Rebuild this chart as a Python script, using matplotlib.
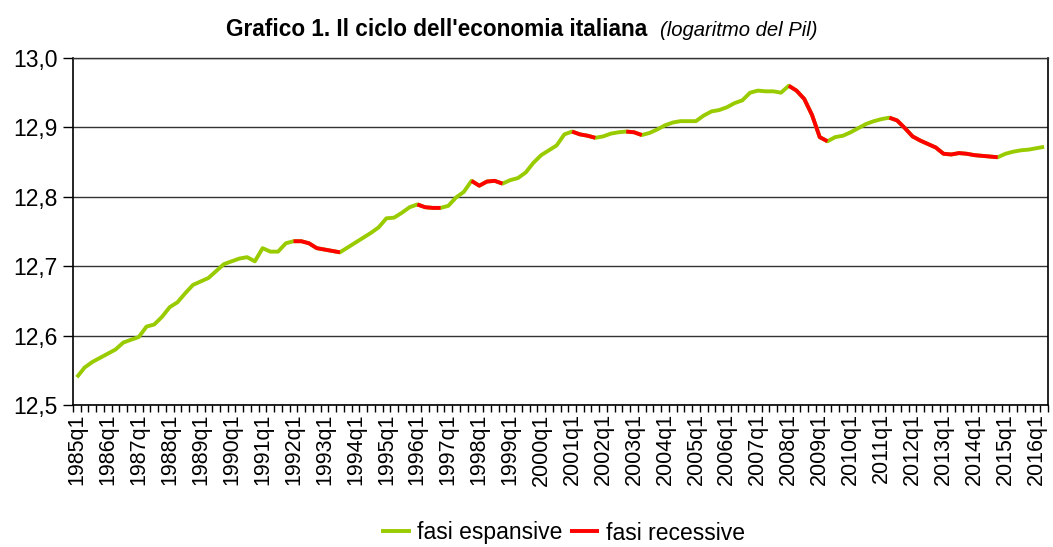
import matplotlib
matplotlib.use("Agg")
import matplotlib.pyplot as plt
from matplotlib.ticker import FixedLocator, FuncFormatter, NullFormatter

plt.rcParams['font.family'] = ['Liberation Sans', 'DejaVu Sans']

years = list(range(1985, 2017))
quarters = [f"{y}q{q}" for y in years for q in range(1, 5)][:126]  # 1985q1 .. 2016q2

log_pil = [
    12.540, 12.554, 12.562, 12.568, 12.574, 12.580, 12.590, 12.594, 12.598, 12.613,
    12.616, 12.627, 12.641, 12.648, 12.661, 12.673, 12.678, 12.683, 12.693, 12.703,
    12.707, 12.711, 12.713, 12.707, 12.726, 12.721, 12.721, 12.733, 12.736, 12.736,
    12.733, 12.726, 12.724, 12.722, 12.720, 12.727, 12.734, 12.741, 12.748, 12.756,
    12.769, 12.770, 12.777, 12.785, 12.789, 12.785, 12.784, 12.784, 12.787, 12.799,
    12.807, 12.823, 12.816, 12.822, 12.823, 12.819, 12.824, 12.827, 12.835, 12.849,
    12.860, 12.867, 12.874, 12.890, 12.894, 12.890, 12.888, 12.885, 12.887, 12.891,
    12.893, 12.894, 12.893, 12.889, 12.892, 12.897, 12.903, 12.907, 12.909, 12.909,
    12.909, 12.917, 12.923, 12.925, 12.929, 12.935, 12.939, 12.950, 12.953, 12.952,
    12.952, 12.950, 12.960, 12.953, 12.941, 12.918, 12.886, 12.880, 12.886, 12.888,
    12.893, 12.899, 12.905, 12.909, 12.912, 12.914, 12.910, 12.899, 12.887, 12.881,
    12.876, 12.871, 12.862, 12.861, 12.863, 12.862, 12.860, 12.859, 12.858, 12.857,
    12.862, 12.865, 12.867, 12.868, 12.870, 12.872,
]

# recession phases (peak -> trough), quarter labels
recessions = [
    ("1992q1", "1993q3"),
    ("1996q1", "1996q4"),
    ("1997q4", "1998q4"),
    ("2001q1", "2001q4"),
    ("2002q4", "2003q2"),
    ("2008q1", "2009q2"),
    ("2011q2", "2014q4"),
]

y_ticks = [12.5, 12.6, 12.7, 12.8, 12.9, 13.0]

GREEN = "#99CC00"
RED = "#FF0000"
LW = 2.8

fig = plt.figure(figsize=(10.53, 5.47), dpi=100)
ax = fig.add_axes([73/1053, 1 - 405/547, (1048 - 73)/1053, (405 - 58)/547])

x = list(range(len(log_pil)))
ax.plot(x, log_pil, color=GREEN, lw=LW, solid_capstyle='butt', zorder=3,
        label="fasi espansive")
first = True
for a, b in recessions:
    i0, i1 = quarters.index(a), quarters.index(b)
    ax.plot(x[i0:i1 + 1], log_pil[i0:i1 + 1], color=RED, lw=LW,
            solid_capstyle='butt', zorder=4,
            label="fasi recessive" if first else None)
    first = False

ax.set_xlim(-0.5, len(quarters) - 0.5)
ax.set_ylim(12.5, 13.0)

# y axis
ax.set_yticks(y_ticks)
ax.yaxis.set_major_formatter(FuncFormatter(lambda v, p: f"{v:.1f}".replace('.', ',')))
ax.tick_params(axis='y', labelsize=16.5, length=7, width=1, direction='out', pad=4)
ax.grid(axis='y', color='#333333', lw=1, zorder=1)

# x axis: ticks at category boundaries, labels every 4 quarters
ax.xaxis.set_major_locator(FixedLocator([k - 0.5 for k in range(len(quarters) + 1)]))
ax.xaxis.set_major_formatter(NullFormatter())
lab_pos = list(range(0, len(quarters), 4))
ax.xaxis.set_minor_locator(FixedLocator(lab_pos))
ax.xaxis.set_minor_formatter(FuncFormatter(lambda v, p: quarters[int(round(v))]))
ax.tick_params(axis='x', which='major', length=5, width=1, direction='out')
ax.tick_params(axis='x', which='minor', length=0, labelsize=15.5, labelrotation=90, pad=6)

for s in ['left', 'bottom', 'right']:
    ax.spines[s].set_color('black')
    ax.spines[s].set_linewidth(1.2)
ax.spines['top'].set_color('#333333')
ax.spines['top'].set_linewidth(1)

fig.text(647/1053, 1 - 30/547, "Grafico 1. Il ciclo dell'economia italiana",
         ha='right', va='center', fontsize=16.3, fontweight='bold')
fig.text(660/1053, 1 - 31/547, "(logaritmo del Pil)",
         ha='left', va='center', fontsize=14.6, fontstyle='italic')

fig.legend(loc='center', bbox_to_anchor=(563/1053, 1 - 533/547), ncol=2,
           frameon=False, fontsize=16.5, handlelength=1.3, handletextpad=0.3,
           columnspacing=0.3)

fig.savefig("out.png", dpi=100)
